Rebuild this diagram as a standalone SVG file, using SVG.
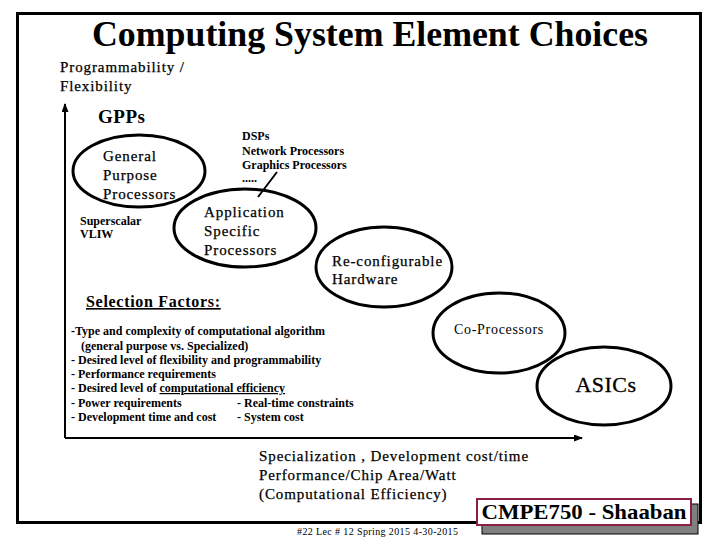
<svg xmlns="http://www.w3.org/2000/svg" width="720" height="540" viewBox="0 0 720 540" font-family="'Liberation Serif','Times New Roman',serif">
<style>
text{font-family:"Liberation Serif","Times New Roman",serif;fill:#000}
.node{fill:none;stroke:#000;stroke-width:3}
.lbl{font-size:15px;letter-spacing:0.9px;stroke:#000;stroke-width:0.25}
.sm{font-size:12px;font-weight:bold}
.fx{font-size:12px;font-weight:bold}
.ax{stroke:#000;stroke-width:2;fill:none}
</style>
<defs>
<marker id="arr" markerUnits="userSpaceOnUse" markerWidth="9" markerHeight="8" refX="8" refY="3.5" orient="auto">
<path d="M0,0 L9,3.5 L0,7 z" fill="#000"/>
</marker>
</defs>
<rect width="720" height="540" fill="#fff"/>
<rect x="17.5" y="13.5" width="683" height="509" fill="none" stroke="#000" stroke-width="3"/>
<text x="370" y="46" font-size="36" font-weight="bold" text-anchor="middle" textLength="556" lengthAdjust="spacingAndGlyphs">Computing System Element Choices</text>
<g id="axis-labels">
<text x="60" y="72" class="lbl">Programmability /</text>
<text x="60" y="91" class="lbl">Flexibility</text>
</g>
<g id="connectors">
<line x1="65" y1="438" x2="65" y2="104" class="ax" marker-end="url(#arr)"/>
<line x1="65" y1="438" x2="582" y2="438" class="ax" marker-end="url(#arr)"/>
<line x1="277" y1="172" x2="258" y2="197" stroke="#000" stroke-width="2"/>
</g>
<g id="gpps">
<text x="98" y="123" font-size="19" font-weight="bold" letter-spacing="0.5">GPPs</text>
<ellipse cx="139" cy="171" rx="66" ry="36" class="node"/>
<text x="103" y="161" class="lbl">General</text>
<text x="103" y="180" class="lbl">Purpose</text>
<text x="103" y="199" class="lbl">Processors</text>
<text x="80" y="225" class="sm">Superscalar</text>
<text x="80" y="238" class="sm">VLIW</text>
</g>
<g id="dsp-list">
<text x="242" y="140" class="sm">DSPs</text>
<text x="242" y="155" class="sm">Network Processors</text>
<text x="242" y="169" class="sm">Graphics Processors</text>
<text x="242" y="182" class="sm">.....</text>
</g>
<g id="asp">
<ellipse cx="245" cy="228" rx="71" ry="39" class="node"/>
<text x="204" y="217" class="lbl">Application</text>
<text x="204" y="236" class="lbl">Specific</text>
<text x="204" y="255" class="lbl">Processors</text>
</g>
<g id="reconfig">
<ellipse cx="384" cy="267" rx="68" ry="40" class="node"/>
<text x="332" y="266" class="lbl" letter-spacing="0.8">Re-configurable</text>
<text x="332" y="284" class="lbl" letter-spacing="0.8">Hardware</text>
</g>
<g id="coproc">
<ellipse cx="499" cy="333" rx="66" ry="40" class="node"/>
<text x="499" y="334" font-size="14" letter-spacing="0.7" text-anchor="middle">Co-Processors</text>
</g>
<g id="asics">
<ellipse cx="604" cy="386" rx="67" ry="39" class="node"/>
<text x="606" y="392" font-size="22" letter-spacing="0.5" text-anchor="middle" stroke="#000" stroke-width="0.3">ASICs</text>
</g>
<g id="selection-factors">
<text x="86" y="307" font-size="16" font-weight="bold" letter-spacing="0.7" text-decoration="underline">Selection Factors:</text>
<text x="71" y="335" class="fx">-Type and complexity of computational algorithm</text>
<text x="81" y="350" class="fx">(general purpose vs. Specialized)</text>
<text x="71" y="364" class="fx">- Desired level of flexibility and programmability</text>
<text x="71" y="378" class="fx">- Performance requirements</text>
<text x="71" y="392" class="fx">- Desired level of <tspan text-decoration="underline">computational efficiency</tspan></text>
<text x="71" y="407" class="fx">- Power requirements</text>
<text x="237" y="407" class="fx">- Real-time constraints</text>
<text x="71" y="421" class="fx">- Development time and cost</text>
<text x="237" y="421" class="fx">- System cost</text>
</g>
<g id="x-axis-label">
<text x="259" y="461" class="lbl" letter-spacing="0.4">Specialization , Development cost/time</text>
<text x="259" y="480" class="lbl" letter-spacing="0.5">Performance/Chip Area/Watt</text>
<text x="259" y="499" class="lbl" letter-spacing="0.5">(Computational Efficiency)</text>
</g>
<g id="footer">
<rect x="482" y="504" width="216" height="30" fill="#808080" stroke="#000" stroke-width="1"/>
<rect x="477" y="499" width="214" height="26" fill="#fff" stroke="#8b2040" stroke-width="2"/>
<text x="584" y="519" font-size="22" font-weight="bold" text-anchor="middle" textLength="205" lengthAdjust="spacingAndGlyphs">CMPE750 - Shaaban</text>
<text x="297" y="535" font-size="10" textLength="161" lengthAdjust="spacing">#22  Lec # 12  Spring 2015  4-30-2015</text>
</g>
</svg>
